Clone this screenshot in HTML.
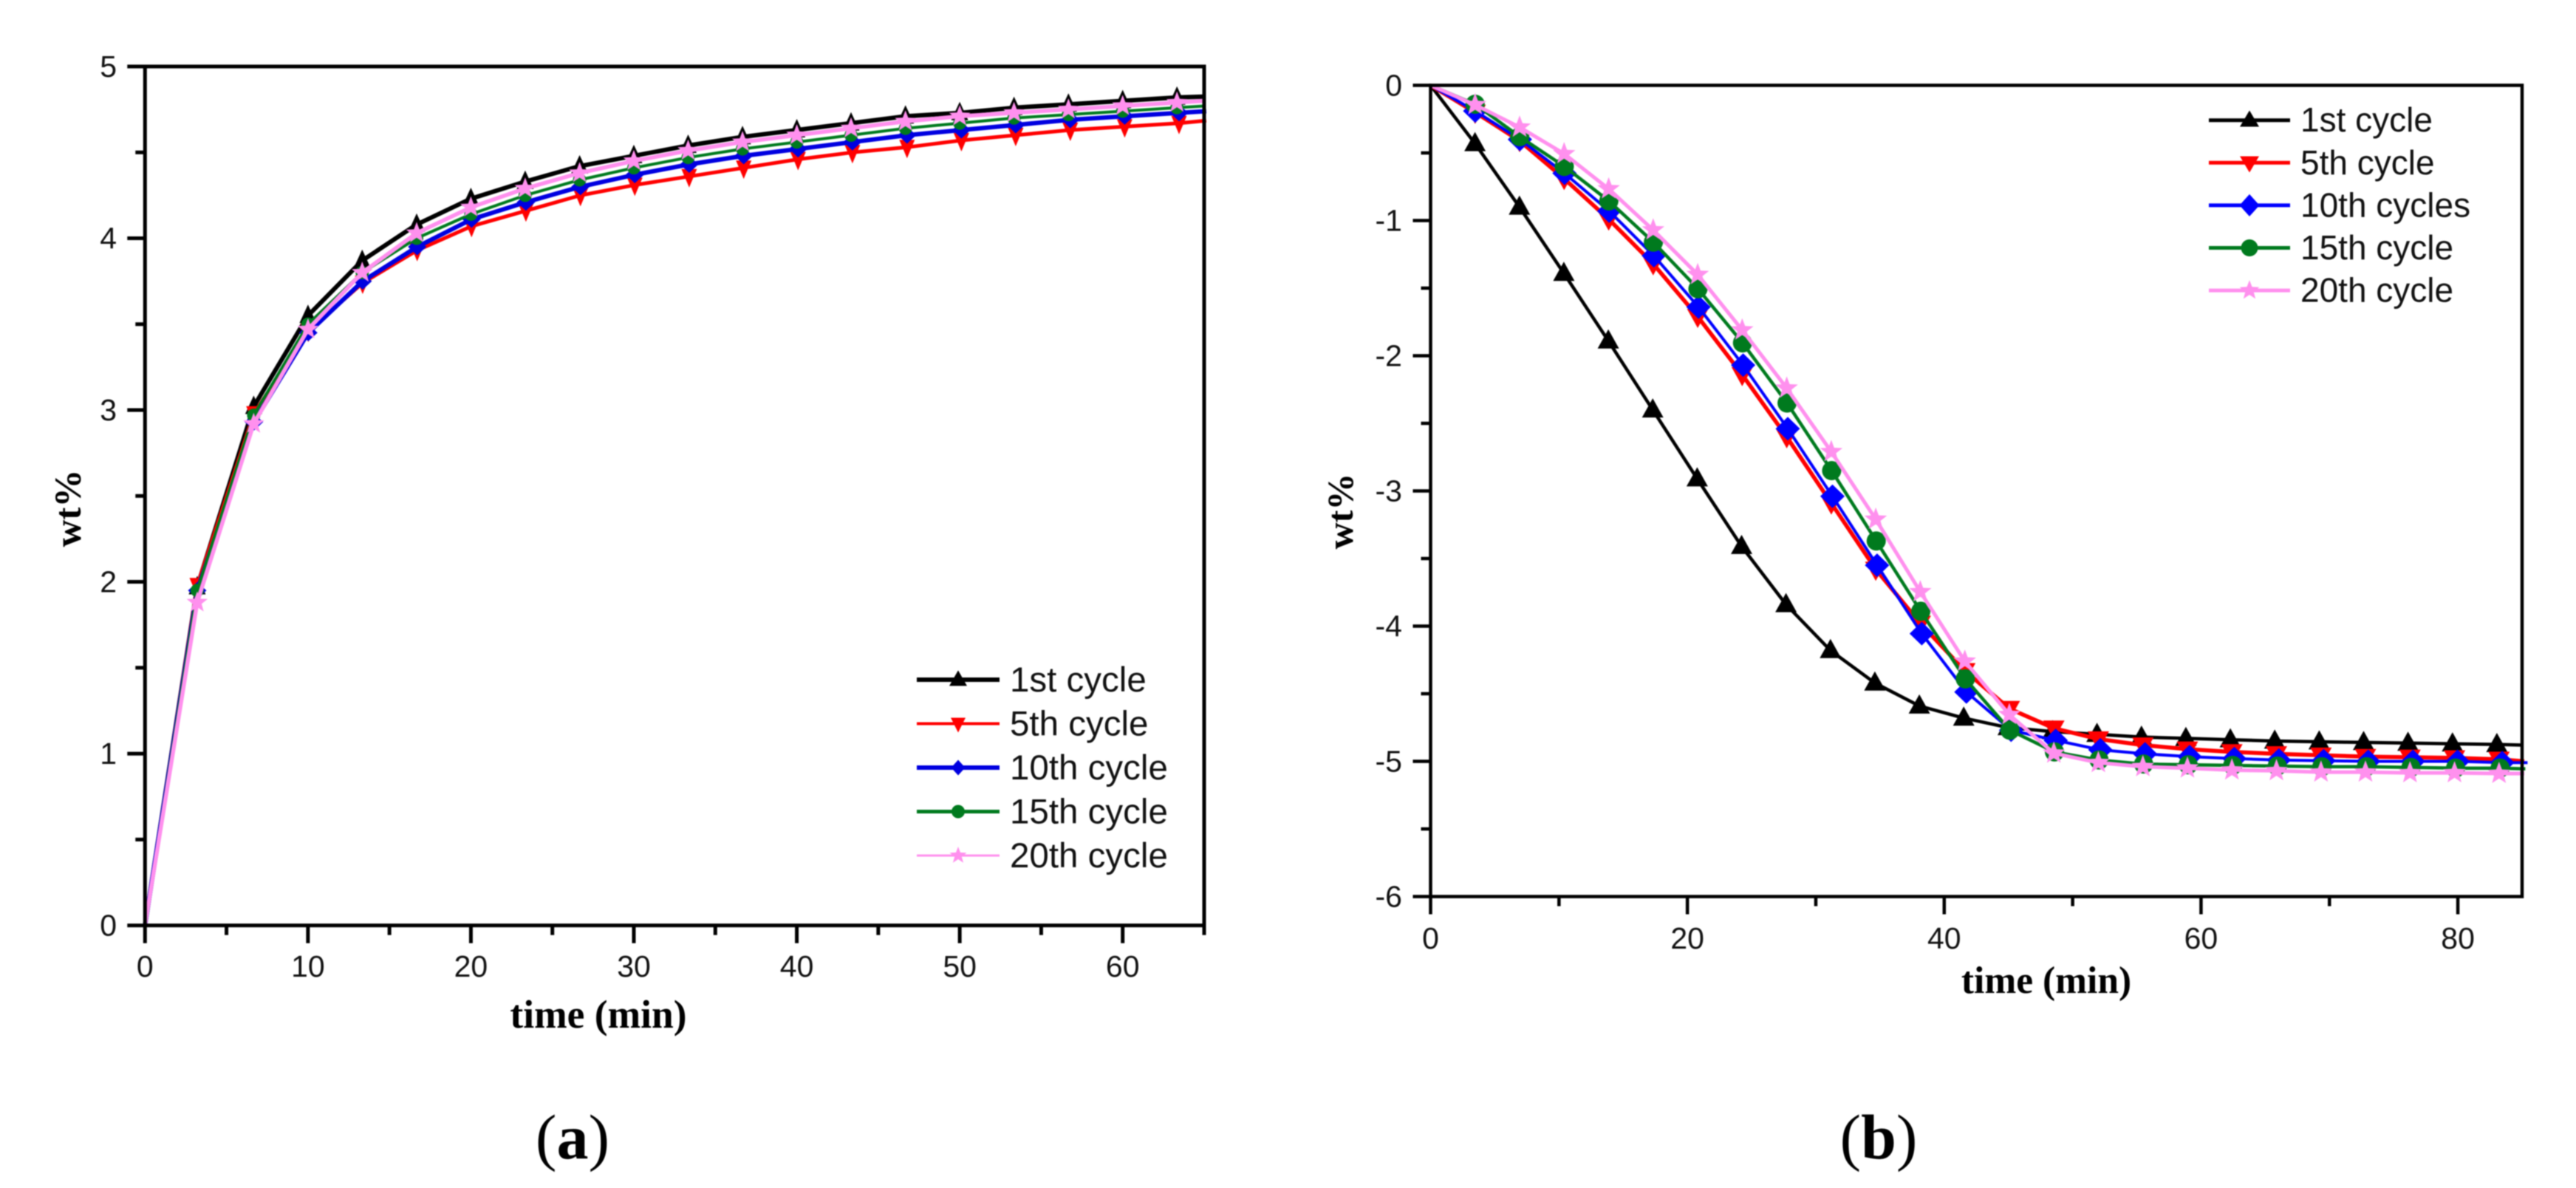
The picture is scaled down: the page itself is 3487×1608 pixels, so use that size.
<!DOCTYPE html>
<html lang="en">
<head>
<meta charset="utf-8">
<title>Hydrogen absorption and desorption cycling curves</title>
<style>
html,body{margin:0;padding:0;background:#fff;}
svg{display:block;filter:blur(0.7px);}
.tick{font-family:"Liberation Sans",sans-serif;font-size:41px;fill:#111;}
.legend{font-family:"Liberation Sans",sans-serif;fill:#111;}
.title{font-family:"Liberation Serif",serif;font-weight:bold;fill:#000;}
.panel{font-family:"Liberation Serif",serif;font-size:86px;fill:#000;}
</style>
</head>
<body>
<svg id="figure" xmlns="http://www.w3.org/2000/svg" width="3487" height="1608" viewBox="0 0 3487 1608">
  <rect x="0" y="0" width="3487" height="1608" fill="#ffffff"/>
  <g id="chart-a">
    <text class="title" font-size="51" transform="translate(109,688) rotate(-90)" text-anchor="middle">wt%</text>
    <text class="title" font-size="53.5" x="810" y="1391" text-anchor="middle">time (min)</text>
  </g>
  <g id="chart-b">
    <text class="title" font-size="50" transform="translate(1831,692) rotate(-90)" text-anchor="middle">wt%</text>
    <text class="title" font-size="51.5" x="2770" y="1344" text-anchor="middle">time (min)</text>
  </g>
  <text class="panel" x="775" y="1568" text-anchor="middle">(<tspan font-weight="bold">a</tspan>)</text>
  <text class="panel" x="2543" y="1568" text-anchor="middle">(<tspan font-weight="bold">b</tspan>)</text>
</svg>
<script>
/* ---------- Chart (a) data: absorption ---------- */
const timeA = [0,3.2,6.67,10,13.33,16.67,20,23.33,26.67,30,33.33,36.67,40,43.33,46.67,50,53.33,56.67,60,63.33,65];
const cycle1A  = [0,1.97,3.02,3.55,3.87,4.08,4.23,4.33,4.42,4.48,4.54,4.59,4.63,4.67,4.71,4.73,4.76,4.78,4.80,4.82,4.825];
const cycle5A  = [0,1.98,2.98,3.46,3.74,3.93,4.07,4.16,4.25,4.31,4.36,4.41,4.46,4.50,4.53,4.57,4.60,4.63,4.65,4.67,4.685];
const cycle10A = [0,1.95,2.93,3.45,3.75,3.95,4.11,4.21,4.30,4.37,4.43,4.48,4.52,4.56,4.60,4.63,4.66,4.69,4.71,4.73,4.74];
const cycle15A = [0,1.95,2.97,3.50,3.80,4.00,4.14,4.25,4.34,4.41,4.47,4.52,4.56,4.60,4.64,4.67,4.70,4.72,4.74,4.76,4.77];
const cycle20A = [0,1.88,2.92,3.47,3.80,4.03,4.18,4.29,4.38,4.45,4.51,4.56,4.60,4.64,4.68,4.71,4.73,4.75,4.77,4.79,4.80];
const xMajorA = [0,10,20,30,40,50,60];
const xMinorA = [5,15,25,35,45,55,65];
const yMajorA = [0,1,2,3,4,5];
const yMinorA = [0.5,1.5,2.5,3.5,4.5];
const legendLabelsA = ["1st cycle","5th cycle","10th cycle","15th cycle","20th cycle"];

/* ---------- Chart (b) data: desorption ---------- */
const timeB = [0,3.46,6.92,10.38,13.84,17.3,20.76,24.22,27.68,31.14,34.6,38.06,41.52,44.98,48.44,51.9,55.36,58.82,62.28,65.74,69.2,72.66,76.12,79.58,83.04,85];
const cycle1B  = [0,-0.43,-0.90,-1.39,-1.89,-2.40,-2.91,-3.41,-3.84,-4.18,-4.42,-4.59,-4.68,-4.75,-4.78,-4.80,-4.82,-4.83,-4.84,-4.85,-4.855,-4.86,-4.865,-4.87,-4.875,-4.88];
const cycle5B  = [0,-0.20,-0.41,-0.69,-0.99,-1.32,-1.71,-2.14,-2.60,-3.09,-3.58,-3.98,-4.33,-4.61,-4.755,-4.835,-4.88,-4.91,-4.93,-4.945,-4.955,-4.965,-4.97,-4.975,-4.985,-5.0];
const cycle10B = [0,-0.19,-0.40,-0.65,-0.93,-1.26,-1.64,-2.07,-2.54,-3.04,-3.55,-4.055,-4.487,-4.77,-4.845,-4.915,-4.945,-4.965,-4.98,-4.99,-4.995,-5.0,-5.0,-5.0,-5.01,-5.01];
const cycle15B = [0,-0.14,-0.38,-0.60,-0.855,-1.16,-1.505,-1.905,-2.35,-2.85,-3.37,-3.89,-4.39,-4.77,-4.93,-4.99,-5.02,-5.025,-5.03,-5.035,-5.04,-5.04,-5.045,-5.05,-5.05,-5.055];
const cycle20B = [0,-0.144,-0.31,-0.506,-0.766,-1.07,-1.40,-1.81,-2.24,-2.71,-3.21,-3.746,-4.26,-4.655,-4.94,-5.01,-5.04,-5.05,-5.065,-5.07,-5.08,-5.08,-5.085,-5.085,-5.09,-5.09];
const xMajorB = [0,20,40,60,80];
const xMinorB = [10,30,50,70];
const yMajorB = [0,-1,-2,-3,-4,-5,-6];
const yMinorB = [-0.5,-1.5,-2.5,-3.5,-4.5,-5.5];
const legendLabelsB = ["1st cycle","5th cycle","10th cycles","15th cycle","20th cycle"];

const NS = "http://www.w3.org/2000/svg";
function mk(tag, attrs, parent){
  const e = document.createElementNS(NS, tag);
  for (const k in attrs) e.setAttribute(k, attrs[k]);
  parent.appendChild(e);
  return e;
}
function markerPoints(kind, cx, cy, w, h){
  if (kind === "up") return [[cx,cy-h*0.6],[cx+w/2,cy+h*0.4],[cx-w/2,cy+h*0.4]];
  if (kind === "down") return [[cx,cy+h*0.6],[cx+w/2,cy-h*0.4],[cx-w/2,cy-h*0.4]];
  if (kind === "diamond") return [[cx,cy-h/2],[cx+w/2,cy],[cx,cy+h/2],[cx-w/2,cy]];
  const pts = [];
  for (let i = 0; i < 10; i++){
    const r = (i % 2 ? 0.42 : 1) * w / 2;
    const ang = -Math.PI / 2 + i * Math.PI / 5;
    pts.push([cx + r * Math.cos(ang), cy + r * Math.sin(ang)]);
  }
  return pts;
}
function drawMarker(parent, kind, color, cx, cy, w, h){
  if (kind === "circle"){
    return mk("circle", {cx: cx, cy: cy, r: w / 2, fill: color}, parent);
  }
  const pts = markerPoints(kind, cx, cy, w, h).map(p => p[0].toFixed(1) + "," + p[1].toFixed(1)).join(" ");
  return mk("polygon", {points: pts, fill: color}, parent);
}

function drawChart(cfg){
  const root = document.getElementById(cfg.rootId);
  const sx = t => cfg.x0 + (t - cfg.xMin) * (cfg.x1 - cfg.x0) / (cfg.xMax - cfg.xMin);
  const sy = v => cfg.yBottom + (v - cfg.yMin) * (cfg.yTop - cfg.yBottom) / (cfg.yMax - cfg.yMin);

  const seriesGroup = mk("g", {}, root);
  
  

  cfg.series.forEach(s => {
    const g = mk("g", {}, seriesGroup);
    
    
    const pts = s.values.map((v, i) => sx(cfg.times[i] * s.stretch).toFixed(1) + "," + sy(v).toFixed(1)).join(" ");
    const line = mk("polyline", {points: pts, fill: "none", stroke: s.color, "stroke-width": s.width, "stroke-linejoin": "round"}, g);
    
    
    s.values.forEach((v, i) => {
      if (i === 0 || i === s.values.length - 1) return;
      const m = drawMarker(g, s.kind, s.color, sx(cfg.times[i] * s.stretch), sy(v), s.mw, s.mh);
      
      
    });
  });

  const axes = mk("g", {stroke: "#000"}, root);
  
  

  const frame = mk("rect", {x: cfg.x0, y: cfg.yTop, width: cfg.x1 - cfg.x0, height: cfg.yBottom - cfg.yTop, fill: "none", "stroke-width": cfg.frameWidth}, axes);
  
  

  cfg.xMajor.forEach(t => {
    const tk = mk("line", {x1: sx(t), x2: sx(t), y1: cfg.yBottom, y2: cfg.yBottom + cfg.majorLen, "stroke-width": cfg.tickWidth}, axes);
    
    
    const lb = mk("text", {x: sx(t), y: cfg.xLabelY, "text-anchor": "middle", class: "tick"}, root);
    lb.textContent = String(t);
    
    
  });
  cfg.xMinor.forEach(t => {
    const tk = mk("line", {x1: sx(t), x2: sx(t), y1: cfg.yBottom, y2: cfg.yBottom + cfg.minorLen, "stroke-width": cfg.tickWidth}, axes);
    
    
  });
  cfg.yMajor.forEach(v => {
    const tk = mk("line", {x1: cfg.x0 - cfg.majorLen, x2: cfg.x0, y1: sy(v), y2: sy(v), "stroke-width": cfg.tickWidth}, axes);
    
    
    const lb = mk("text", {x: cfg.yLabelX, y: sy(v) + 14, "text-anchor": "end", class: "tick"}, root);
    lb.textContent = String(v);
    
    
  });
  cfg.yMinor.forEach(v => {
    const tk = mk("line", {x1: cfg.x0 - cfg.minorLen, x2: cfg.x0, y1: sy(v), y2: sy(v), "stroke-width": cfg.tickWidth}, axes);
    
    
  });

  const legend = mk("g", {}, root);
  
  
  const L = cfg.legend;
  cfg.series.forEach((s, i) => {
    const y = L.y0 + i * L.dy;
    const entry = mk("g", {}, legend);
    
    
    const ln = mk("line", {x1: L.x1, x2: L.x2, y1: y, y2: y, stroke: s.color, "stroke-width": s.legendWidth}, entry);
    
    
    const mm = drawMarker(entry, s.kind, s.color, L.cx, y, s.lw, s.lh);
    
    
    const tx = mk("text", {x: L.textX, y: y + L.baseOff, class: "legend", "font-size": L.fontSize}, entry);
    tx.textContent = cfg.labels[i];
    
    
  });
}

drawChart({
  rootId: "chart-a", x0: 196.3, x1: 1630, yTop: 90, yBottom: 1252.6,
  xMin: 0, xMax: 65, yMin: 0, yMax: 5,
  times: timeA, xMajor: xMajorA, xMinor: xMinorA, yMajor: yMajorA, yMinor: yMinorA,
  frameWidth: 5, tickWidth: 5, majorLen: 24, minorLen: 13, xLabelY: 1322, yLabelX: 158,
  labels: legendLabelsA,
  legend: {x1: 1241, x2: 1353, cx: 1297, textX: 1367, y0: 920, dy: 59.5, baseOff: 16, fontSize: 47.5},
  series: [
    {id: "1st", color: "#000000", kind: "up", values: cycle1A, stretch: 1, width: 6, mw: 23, mh: 25, legendWidth: 6, lw: 24, lh: 21},
    {id: "5th", color: "#ff0000", kind: "down", values: cycle5A, stretch: 1.002, width: 5, mw: 21, mh: 25, legendWidth: 4, lw: 20, lh: 20},
    {id: "10th", color: "#0000e0", kind: "diamond", values: cycle10A, stretch: 1.002, width: 6, mw: 25, mh: 23, legendWidth: 6, lw: 19, lh: 21},
    {id: "15th", color: "#007a1e", kind: "circle", values: cycle15A, stretch: 1, width: 4, mw: 18, mh: 18, legendWidth: 5, lw: 18, lh: 18},
    {id: "20th", color: "#ff90ee", kind: "star", values: cycle20A, stretch: 1, width: 5.5, mw: 30, mh: 30, legendWidth: 3, lw: 24, lh: 24}
  ]
});

drawChart({
  rootId: "chart-b", x0: 1936.5, x1: 3414, yTop: 115.5, yBottom: 1213.5,
  xMin: 0, xMax: 85, yMin: -6, yMax: 0,
  times: timeB, xMajor: xMajorB, xMinor: xMinorB, yMajor: yMajorB, yMinor: yMinorB,
  frameWidth: 4.5, tickWidth: 4.5, majorLen: 24, minorLen: 13, xLabelY: 1284, yLabelX: 1898,
  labels: legendLabelsB,
  legend: {x1: 2990, x2: 3100, cx: 3045, textX: 3114, y0: 162.7, dy: 57.6, baseOff: 15.5, fontSize: 46},
  series: [
    {id: "1st", color: "#000000", kind: "up", values: cycle1B, stretch: 1, width: 4.5, mw: 29, mh: 26, legendWidth: 5, lw: 26, lh: 22},
    {id: "5th", color: "#ff0000", kind: "down", values: cycle5B, stretch: 1.002, width: 5.5, mw: 29, mh: 26, legendWidth: 5, lw: 26, lh: 22},
    {id: "10th", color: "#0000ff", kind: "diamond", values: cycle10B, stretch: 1.005, width: 4, mw: 33, mh: 32, legendWidth: 5, lw: 27, lh: 30},
    {id: "15th", color: "#007a1e", kind: "circle", values: cycle15B, stretch: 1.003, width: 4.5, mw: 26, mh: 26, legendWidth: 5, lw: 23, lh: 23},
    {id: "20th", color: "#ff90ee", kind: "star", values: cycle20B, stretch: 1.002, width: 5, mw: 32, mh: 32, legendWidth: 5, lw: 28, lh: 28}
  ]
});
</script>
</body>
</html>
